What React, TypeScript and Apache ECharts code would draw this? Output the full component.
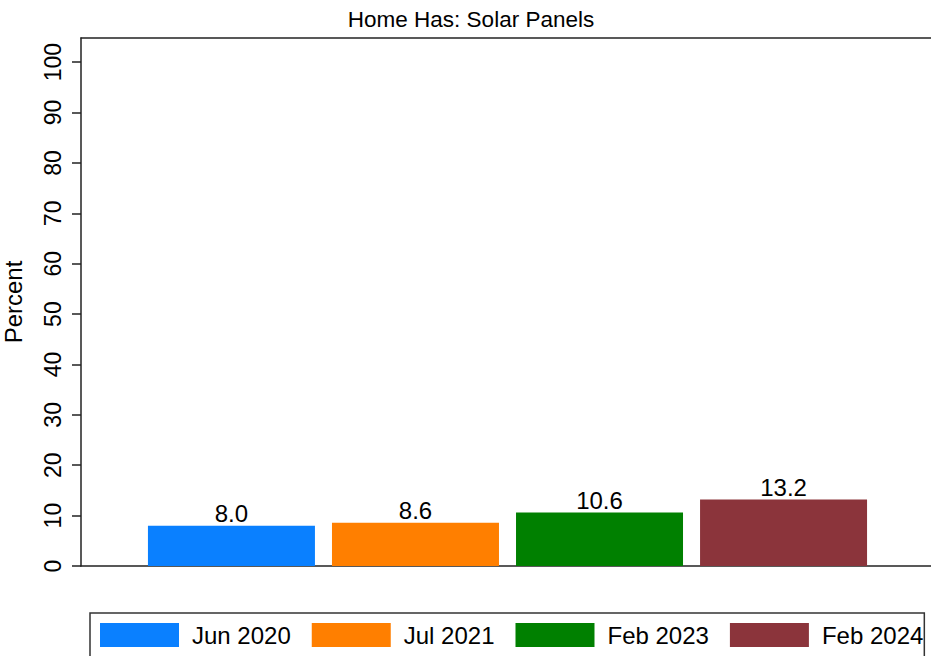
import React, { useEffect, useRef } from "react";
import * as echarts from "echarts";

const titleText = "Home Has: Solar Panels";
const yAxisName = "Percent";
const seriesNames = ["Jun 2020", "Jul 2021", "Feb 2023", "Feb 2024"];
const seriesValues = [8.0, 8.6, 10.6, 13.2];
const seriesColors = ["#0a80ff", "#ff7f00", "#008000", "#8b343b"];
const yTickValues = [0, 10, 20, 30, 40, 50, 60, 70, 80, 90, 100];
const categories = ["Solar Panels"];

const FONT = "'Liberation Sans', Arial, Helvetica, sans-serif";

export default function App() {
  const ref = useRef<HTMLDivElement>(null);
  useEffect(() => {
    document.body.style.margin = "0";
    const chart = echarts.init(ref.current!, null, { renderer: "svg" });
    const axisColor = "#222";
    chart.setOption({
      animation: false,
      backgroundColor: "#ffffff",
      textStyle: { fontFamily: FONT },
      title: {
        text: titleText,
        left: 466,
        top: 3,
        textAlign: "center",
        textStyle: { fontFamily: FONT, fontSize: 22.5, fontWeight: "normal", color: "#000" },
      },
      grid: {
        left: 81,
        top: 38,
        width: 853,
        height: 528,
        containLabel: false,
        outerBoundsMode: "none",
      },
      legend: {
        left: 90,
        top: 613,
        orient: "horizontal",
        data: seriesNames,
        itemWidth: 79,
        itemHeight: 24,
        itemGap: 21,
        padding: [10, 1, 10, 10],
        borderColor: "#333",
        borderWidth: 1.5,
        borderRadius: 0,
        icon: "rect",
        textStyle: { fontFamily: FONT, fontSize: 24, color: "#000", padding: [0, 0, 0, 8] },
      },
      xAxis: [
        {
          type: "category",
          data: categories,
          position: "bottom",
          axisLine: { show: true, lineStyle: { color: axisColor, width: 1.5 } },
          axisTick: { show: false },
          axisLabel: { show: false },
          splitLine: { show: false },
        },
        {
          type: "category",
          data: categories,
          position: "top",
          axisLine: { show: true, lineStyle: { color: axisColor, width: 1.5 } },
          axisTick: { show: false },
          axisLabel: { show: false },
          splitLine: { show: false },
        },
      ],
      yAxis: {
        type: "value",
        min: 0,
        max: 104.8,
        name: yAxisName,
        nameLocation: "middle",
        nameGap: 56,
        nameRotate: 90,
        nameTextStyle: { fontFamily: FONT, fontSize: 24, color: "#000" },
        axisLine: { show: true, lineStyle: { color: axisColor, width: 1.5 } },
        axisTick: { show: true, length: 9, lineStyle: { color: axisColor, width: 1.5 }, customValues: yTickValues },
        axisLabel: {
          rotate: 90,
          margin: 17,
          fontFamily: FONT,
          fontSize: 23,
          color: "#000",
          customValues: yTickValues,
        },
        splitLine: { show: false },
      },
      series: seriesNames.map((name, i) => ({
        name,
        type: "bar",
        xAxisIndex: 0,
        data: [seriesValues[i]],
        barWidth: 167,
        barGap: "10.2%",
        itemStyle: { color: seriesColors[i] },
        label: {
          show: true,
          position: "top",
          distance: 0,
          formatter: (p: any) => Number(p.value).toFixed(1),
          fontFamily: FONT,
          fontSize: 24,
          color: "#000",
        },
      })),
    });
    return () => chart.dispose();
  }, []);
  return (
    <div
      ref={ref}
      style={{ position: "fixed", left: 0, top: 0, width: 931, height: 656 }}
    />
  );
}
